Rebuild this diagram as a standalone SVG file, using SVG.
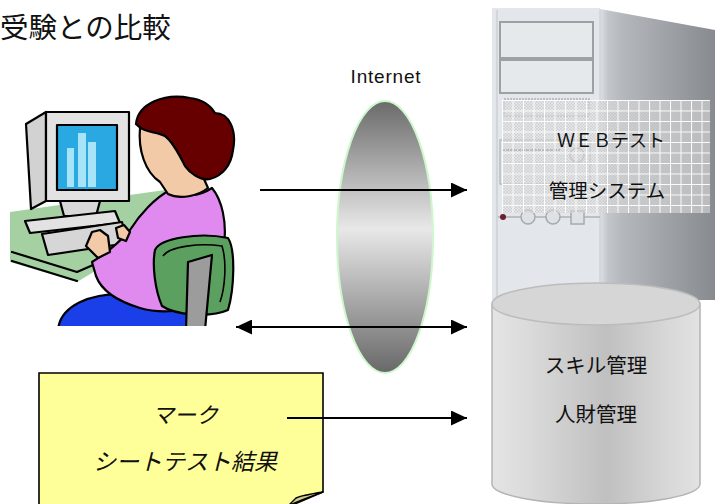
<svg xmlns="http://www.w3.org/2000/svg" width="715" height="504" viewBox="0 0 715 504">
<style>
  .jp { font-family: "Noto Sans CJK JP", sans-serif; fill: #111; }
  .conn { stroke: #000; stroke-width: 2; fill: none; }
  .ol { stroke: #000; stroke-width: 2.2; stroke-linejoin: round; stroke-linecap: round; }
  .bay { fill: #e6e9ec; stroke: #9ca1a6; stroke-width: 2; }
  .btn { fill: #dfe2e5; stroke: #a6abb0; stroke-width: 1.5; }
</style>
<defs>
  <marker id="ah" viewBox="0 0 16 15" refX="16" refY="7.5" markerWidth="16" markerHeight="15" markerUnits="userSpaceOnUse" orient="auto-start-reverse">
    <path d="M0,0 L16,7.5 L0,15 Z" fill="#000"/>
  </marker>
  <linearGradient id="net" x1="0" y1="0" x2="0" y2="1">
    <stop offset="0" stop-color="#6a6a6a"/>
    <stop offset="0.47" stop-color="#e8e8e8"/>
    <stop offset="1" stop-color="#686868"/>
  </linearGradient>
  <linearGradient id="side" x1="0" y1="0" x2="1" y2="0">
    <stop offset="0" stop-color="#dde1e5"/>
    <stop offset="0.07" stop-color="#c2c6ca"/>
    <stop offset="0.2" stop-color="#b4b8bc"/>
    <stop offset="1" stop-color="#878b8f"/>
  </linearGradient>
  <linearGradient id="cyl" x1="0" y1="0" x2="1" y2="0">
    <stop offset="0" stop-color="#e4e4e4"/>
    <stop offset="0.15" stop-color="#dcdcdc"/>
    <stop offset="0.55" stop-color="#c0c0c0"/>
    <stop offset="0.85" stop-color="#d8d8d8"/>
    <stop offset="1" stop-color="#e2e2e2"/>
  </linearGradient>
  <!-- fine cross-hatch under the label grid -->
  <pattern id="hatch" x="0" y="0" width="3" height="3" patternUnits="userSpaceOnUse">
    <rect width="3" height="3" fill="#e4e4e4" fill-opacity="0.55"/>
    <path d="M0,0 L3,3 M3,0 L0,3" stroke="#b4b4b4" stroke-width="0.6" stroke-opacity="0.5"/>
  </pattern>
  <pattern id="grid" x="502" y="100" width="10.5" height="10.5" patternUnits="userSpaceOnUse">
    <path d="M0,0.5 H10.5 M0.5,0 V10.5" stroke="#ffffff" stroke-width="1" stroke-opacity="0.95"/>
  </pattern>
  <clipPath id="clipArt">
    <rect x="0" y="95" width="240" height="231"/>
  </clipPath>
</defs>

<!-- heading -->
<text class="jp" x="0" y="38" font-size="28.5">受験との比較</text>

<!-- user at a desktop computer -->
<g id="user" clip-path="url(#clipArt)">
  <!-- desk -->
  <path d="M10,212 L165,190 L178,255 L100,268 L77,282 L10,262 Z" fill="#a4d0a2"/>
  <path d="M12,252 L77,272 L100,262 M12,261 L77,281" class="ol" fill="none"/>
  <!-- monitor -->
  <path d="M26,124 L46,112 L46,201 L31,209 Z" fill="#d2d2d2" class="ol"/>
  <rect x="46" y="112" width="83" height="89" fill="#e2e2e2" class="ol"/>
  <rect x="57" y="125" width="60" height="65" fill="#29a8e2" class="ol"/>
  <rect x="67" y="148" width="7" height="39" fill="#a8e4f8"/>
  <rect x="78" y="133" width="8" height="54" fill="#a8e4f8"/>
  <rect x="88" y="142" width="8" height="45" fill="#a8e4f8"/>
  <path d="M60,201 L100,201 L96,216 L64,216 Z" fill="#d8d8d8" class="ol"/>
  <path d="M25,221 L115,211 L120,223 L30,233 Z" fill="#e2e2e2" class="ol"/>
  <path d="M42,234 L122,222 L128,243 L48,255 Z" fill="#d6d6d6" class="ol"/>
  <!-- person -->
  <path d="M58,330 C60,306 90,292 130,294 L192,300 L198,330 Z" fill="#1a3ee8" class="ol"/>
  <path d="M170,190 C185,198 200,196 212,188 C222,200 227,222 224,245 L216,300 C190,312 160,314 140,308 C120,302 102,292 96,276 L92,262 C105,254 118,244 130,230 C140,214 155,198 170,190 Z" fill="#e08af0" class="ol"/>
  <path d="M140,128 C138,150 145,172 160,182 L168,194 C180,200 198,196 208,188 L200,170 L195,140 Z" fill="#f3caa8" class="ol"/>
  <path d="M136,124 C138,103 165,93 190,98 C205,100 212,108 215,113 C229,113 237,130 233,150 C231,166 222,176 210,179 C200,181 190,173 185,166 C180,156 172,141 165,136 C155,131 144,133 136,124 Z" fill="#660000" class="ol"/>
  <path d="M86,246 L92,232 L100,230 L108,236 L110,252 L98,258 Z" fill="#f3caa8" class="ol" stroke-width="1.5"/>
  <path d="M116,228 L124,225 L130,232 L126,241 L118,238 Z" fill="#f3caa8" class="ol" stroke-width="1.5"/>
  <!-- chair -->
  <path d="M155,250 C160,238 200,232 228,238 C236,250 234,290 228,310 C210,318 175,315 162,306 C155,290 152,265 155,250 Z" fill="#5ca060" class="ol" stroke-width="2.8"/>
  <path d="M163,256 C170,246 200,243 222,246 C227,262 225,288 220,302" fill="none" stroke="#000" stroke-width="1.6"/>
  <path d="M188,262 L212,255 L205,330 L186,330 Z" fill="#9c9c9c" class="ol"/>
</g>

<!-- server tower -->
<g id="server">
  <polygon points="600,9 715,30 715,300 600,300" fill="url(#side)"/>
  <rect x="492" y="8" width="108" height="292" fill="#e3e7eb"/>
  <line x1="497" y1="10" x2="497" y2="300" stroke="#cdd1d5" stroke-width="1.5"/>
  <line x1="600" y1="9" x2="600" y2="300" stroke="#d0d4d8" stroke-width="1.5"/>
  <rect class="bay" x="500" y="22" width="93" height="36"/>
  <rect class="bay" x="500" y="60" width="93" height="33"/>
  <rect x="504" y="99" width="85" height="17" fill="none" stroke="#aeb2b6" stroke-width="1.5" stroke-dasharray="2 1"/>
  <rect x="500" y="140" width="90" height="44" fill="none" stroke="#b8bcc0" stroke-width="1.5"/>
  <line x1="502" y1="150" x2="560" y2="150" stroke="#8a8e92" stroke-width="2" stroke-dasharray="3 1"/>
  <line x1="502" y1="163" x2="588" y2="163" stroke="#c0c4c8"/>
  <line x1="502" y1="174" x2="588" y2="174" stroke="#c0c4c8"/>
  <circle cx="577" cy="155" r="7" class="btn"/>
  <line x1="498" y1="217" x2="600" y2="217" stroke="#aeb2b6" stroke-width="1.5"/>
  <circle cx="503" cy="217" r="3" fill="#6e1e30"/>
  <circle cx="528" cy="217" r="7" class="btn"/>
  <circle cx="553" cy="217" r="7" class="btn"/>
  <rect x="571" y="211" width="13" height="13" class="btn"/>
  <!-- label plate -->
  <rect x="502" y="100" width="208" height="113" fill="url(#hatch)"/>
  <rect x="502" y="100" width="208" height="113" fill="url(#grid)"/>
  <text class="jp" x="611" y="147" font-size="18" text-anchor="middle">ＷＥＢテスト</text>
  <text class="jp" x="607" y="198" font-size="19.5" text-anchor="middle">管理システム</text>
</g>

<!-- database -->
<g id="database">
  <path d="M492,304 L492,484 A104,20 0 0 0 700,484 L700,304 Z" fill="url(#cyl)" stroke="#b4b4b4" stroke-width="1.5"/>
  <ellipse cx="596" cy="304" rx="104" ry="21" fill="#d6d6d6" stroke="#bcbcbc" stroke-width="1.5"/>
  <text class="jp" x="596" y="373" font-size="20.5" text-anchor="middle">スキル管理</text>
  <text class="jp" x="596" y="422" font-size="20.5" text-anchor="middle">人財管理</text>
</g>

<!-- internet -->
<g id="internet">
  <ellipse cx="385" cy="237" rx="48" ry="136" fill="url(#net)" stroke="#ccf8cc" stroke-width="2"/>
  <text x="386" y="83" font-family="Liberation Sans, sans-serif" font-size="19" letter-spacing="0.8" text-anchor="middle" fill="#111">Internet</text>
</g>

<!-- mark sheet note -->
<g id="marksheet">
  <path d="M39,373 L323,373 L323,492 L290,506 L39,506 Z" fill="#ffff99" stroke="#000" stroke-width="1.6"/>
  <path d="M323,492 C310,494 300,496 296,498 L288,506 C300,500 312,496 323,492 Z" fill="#d4cc88" stroke="#000" stroke-width="1.4" stroke-linejoin="round"/>
  <text class="jp" x="185" y="423" font-size="22" font-style="italic" text-anchor="middle">マーク</text>
  <text class="jp" x="185" y="470" font-size="23" font-style="italic" text-anchor="middle">シートテスト結果</text>
</g>

<!-- connectors -->
<g id="connectors">
  <line class="conn" x1="260" y1="190" x2="467" y2="190" marker-end="url(#ah)"/>
  <line class="conn" x1="236" y1="327" x2="467" y2="327" marker-start="url(#ah)" marker-end="url(#ah)"/>
  <line class="conn" x1="287" y1="418" x2="467" y2="418" marker-end="url(#ah)"/>
</g>
</svg>
